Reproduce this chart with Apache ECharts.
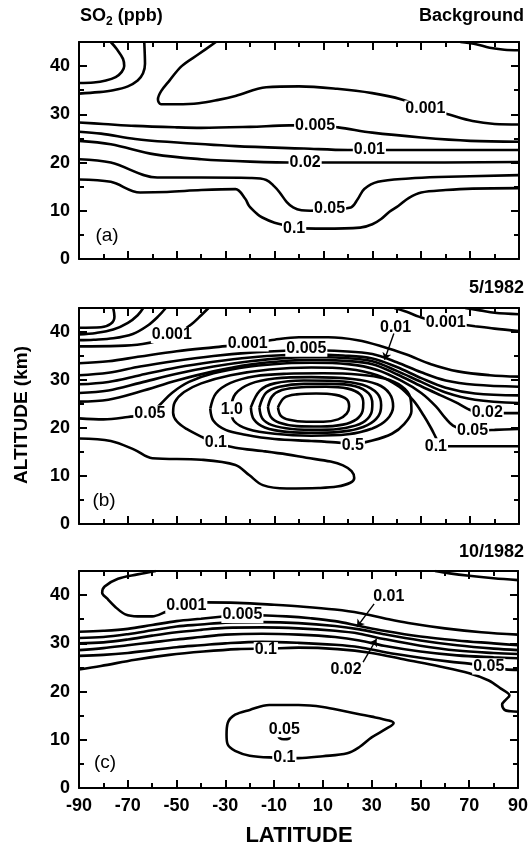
<!DOCTYPE html>
<html><head><meta charset="utf-8">
<script src="https://cdn.jsdelivr.net/npm/echarts@6/dist/echarts.min.js"></script>
<style>html,body{margin:0;padding:0;background:#fff}#c{width:531px;height:851px}</style>
</head><body><div id="c"></div>
<script>
// ---------- axis ticks ----------
const latMajor = [-90,-70,-50,-30,-10,10,30,50,70,90];
const latMinor = [-80,-60,-40,-20,0,20,40,60,80];
const altMajor = [0,10,20,30,40];
const altMinor = [5,15,25,35,45];

// ---------- panel (a) Background : contour polylines [lat, alt] ----------
const a1 = [[-77,45],[-74.5,43.5],[-72,41.5],[-71.5,40],[-72.5,38.8],[-75,37.7],[-79,37],[-84,36.6],[-90,36.5]];
const a2 = [[-63.3,45],[-63.1,42.5],[-63,40.5],[-63.8,38.5],[-66,37],[-70,35.8],[-76,35],[-82,34.6],[-90,34.3]];
const a3 = [[-34,45],[-41,42.5],[-48,40],[-53,37],[-56.4,34.8],[-57.7,33.1],[-56.5,32.1],[-50,32.1],[-41,32.3],[-33,33],[-26,33.8],[-13.4,35.6],[0,35.8],[15.6,35.3],[30,34.4],[42,33.1],[51.7,31.3],[61,30],[71,28.6],[80,28],[90,27.9]];
const a4 = [[66,45],[72,44.6],[78,43.8],[84,43.4],[90,43.3]];
const a5 = [[-90,28.3],[-80,28],[-67,27.6],[-50,27.3],[-40,27.2],[-20,27.4],[-4,27.7],[6.6,27.7],[16,27.3],[30,26.2],[50,25.2],[70,24.5],[90,24.3]];
const a6 = [[-90,26.4],[-81,26],[-67,24.9],[-54,24.3],[-26,23.4],[2,22.9],[20,22.6],[40,22.6],[90,22.6]];
const a7 = [[-90,24.5],[-77,23.8],[-59,21.7],[-40,20.7],[-20,20.2],[0,20],[40,20],[90,20.1]];
const a8 = [[-90,20.7],[-77,20],[-58,16.9],[-40,16.9],[-20,16.8],[-13.4,16.4],[-10,15],[-7.9,13.8],[-5,11.8],[-2.4,10.7],[1,10.1],[4.6,10],[12.5,10.3],[21.2,10.7],[24,12.4],[26.7,14.5],[32.3,16],[45,16.7],[57,17],[90,17.4]];
const a9 = [[-90,16.5],[-77,16],[-65,13.8],[-54,13.9],[-40,14.3],[-26,14.5],[-22,12.5],[-20.4,11],[-17,9.3],[-15,8.6],[-10,7.5],[-5,6.9],[0,6.4],[10,6.3],[25,6.5],[30,7.2],[33.6,8.3],[37,9.8],[40.6,11],[45,12.7],[50,13.8],[60,14.3],[71,14.6],[90,14.7]];
const labelsA = [['0.001',51.7,31.2],['0.005',6.6,27.7],['0.01',28.8,22.6],['0.02',2.5,20],['0.05',12.5,10.4],['0.1',-2,6.4]];

// ---------- panel (b) 5/1982 ----------
const b1 = [[-76,45],[-75.5,43.2],[-77,41.7],[-81,41],[-90,40.9]];
const b2 = [[-63.7,45],[-66,43.5],[-70,41.9],[-76,40.5],[-83,39.8],[-90,39.5]];
const b3 = [[-54.5,45],[-57.5,43.3],[-62,41.3],[-68,39.6],[-76,38.7],[-84,38.4],[-90,38.3]];
const b4 = [[-37,45],[-40,43.5],[-44,41.6],[-48,40.2],[-52,39.3],[-57,38.3],[-64,37.5],[-74,37.1],[-90,37.0]];
const bt1 = [[68,45],[74,44.5],[80,44],[90,43.7]];
const bt2 = [[39,45],[44,44.2],[49,43.2],[54,42.4],[60,42],[66,41.6],[72,41.2],[80,40.7],[90,40.2]];
const bL1 = [[-90,33.5],[-78,33.9],[-65,34.9],[-50,36],[-35,36.8],[-21,37.5],[-10,38.4],[0,38.9],[12,38.9],[24,38.3],[34,37],[44,35.3],[54,33.3],[65,31.8],[78,31],[90,30.7]];
const bL2 = [[-90,31],[-78,31.5],[-65,32.8],[-50,34],[-35,35],[-20,35.7],[-5,36.1],[3,36.2],[18,36],[30,35.4],[40,33.7],[50,31.6],[60,29.9],[72,29],[90,28.6]];
const bL3 = [[-90,29.1],[-78,29.6],[-65,31],[-50,32.6],[-35,33.8],[-20,34.7],[-5,35.2],[5,35.3],[18,35.1],[30,34.5],[40,32.7],[50,30.4],[60,28.4],[72,27.2],[90,26.8]];
const bL4 = [[-90,27.3],[-78,27.8],[-65,29.4],[-50,31.3],[-35,32.8],[-20,33.9],[-5,34.6],[5,34.8],[18,34.6],[30,33.9],[40,31.9],[50,29.6],[60,27.4],[72,25.9],[90,25.2]];
const bL5 = [[-90,25.5],[-78,25.9],[-65,27.6],[-50,29.9],[-35,31.8],[-20,33.2],[-5,34],[5,34.2],[18,34],[30,33.3],[40,31.2],[50,28.7],[58,26.8],[64,25.4],[69,24],[72,23.4],[77,23.3],[84,23.1],[90,23.1]];
const bL6 = [[-90,22],[-80,21.8],[-70,22.3],[-61,23],[-57,24.8],[-52,27.3],[-45,29.6],[-35,31.4],[-20,32.8],[-5,33.5],[5,33.6],[20,33.3],[32,32.1],[42,29.8],[50,27.3],[56,24.5],[60,22],[63,20.5],[67,19.7],[71,19.5],[80,19.6],[90,19.8]];
const bL7 = [[-90,17.8],[-77,17.3],[-67.4,15.5],[-60,13.7],[-40,13.4],[-26,12.3],[-20.4,10.2],[-14.8,8.1],[-5,7.4],[8,7.5],[15.6,7.8],[21,8.6],[22.6,9.6],[21.5,11],[18,12.2],[12.9,13],[3,13.8],[-5,14.5],[-15,15.2],[-26,15.9],[-34,16.9],[-40,18.2],[-46,19.8],[-50,21.4],[-51.5,23.2],[-50.8,25.4],[-47,27.5],[-40,29.3],[-28,31],[-12,32.2],[5,32.6],[20,32.3],[32,31],[41,28.6],[47,25.6],[51,22.6],[54,20],[56,18],[57.5,16.6],[61,16.2],[70,16.2],[90,16.2]];
const bR1 = [[-36.3,24],[-35,21.5],[-30,19.6],[-22,18.6],[-10,17.7],[5,17.3],[15,17],[22,16.7],[30,17.4],[38,18.8],[43,20.8],[46,23.5],[45.5,26.4],[42,28.7],[35,30.3],[25,31.1],[10,31.4],[-5,31.3],[-18,30.8],[-28,29.4],[-34,27.2],[-36.3,24]];
const bR2 = [[-28,24],[-26.5,21.4],[-21,19.8],[-10,18.8],[5,18.4],[20,18.7],[30,19.9],[36,21.8],[38.5,24.5],[37,27.2],[32,29.1],[22,30.2],[5,30.6],[-10,30.3],[-20,29.2],[-26,27.1],[-28,24]];
const bR3 = [[-19.7,24.3],[-18.5,21.8],[-14,20.1],[-5,19.2],[8,19],[20,19.4],[28,20.6],[32.5,22.5],[33.6,24.8],[32,27.2],[26,29],[15,29.8],[2,29.9],[-10,29.3],[-16,27.8],[-19.7,24.3]];
const bR4 = [[-16.2,24.3],[-15,22],[-11,20.6],[-3,19.8],[9,19.6],[19,20],[26,21.1],[29.5,23],[30,25],[28.5,27.2],[23,28.7],[13,29.2],[2,29.2],[-8,28.6],[-13.5,27.3],[-16.2,24.3]];
const bR5 = [[-12.7,24.4],[-11.5,22.3],[-8,21.1],[-1,20.4],[9,20.3],[18,20.7],[23.5,21.8],[26,23.5],[26.3,25.2],[25,27],[20,28.2],[11,28.6],[1,28.5],[-7,27.9],[-11,26.6],[-12.7,24.4]];
const bR6 = [[-8.6,24.3],[-7.5,22.6],[-4,21.7],[3,21.3],[10,21.3],[16,21.8],[19.5,23],[20.5,24.5],[19.5,26],[15,26.9],[7,27.2],[-1,27],[-6,26.3],[-8.6,24.3]];
const labelsB = [['0.001',-52,39.4],['0.001',-21,37.6],['0.005',3,36.5],['0.01',39.5,41],['0.001',60,42],['0.05',-61,23],['1.0',-27.5,23.9],['0.1',-34,16.9],['0.5',22,16.4],['0.02',77,23.3],['0.05',71,19.5],['0.1',56,16.2]];
const arrowsB = [[[38.8,39.7],[35,34.2]]];

// ---------- panel (c) 10/1982 ----------
const cTR = [[56,45],[62,44.5],[70,44],[80,43.5],[90,43.1]];
const c1 = [[-58.5,45],[-66,44.3],[-74,43.4],[-79.5,41.8],[-80.5,40.5],[-78.5,39.3],[-75,37.5],[-71,36],[-66,35.6],[-60,35.6],[-54,36.6],[-46,37.8],[-38,38.5],[-25,38.4],[-10,38],[2,37.6],[15,37],[25,36.3],[35,35.2],[45,34.2],[60,33.1],[75,32.3],[90,31.8]];
const c2 = [[-90,32.4],[-80,32.6],[-70,33],[-60,33.8],[-50,34.6],[-40,35.1],[-30,35.6],[-23,35.9],[-15,35.8],[-5,35.6],[5,35.2],[15,34.6],[25,33.6],[35,32.6],[50,31.4],[65,30.6],[80,30],[90,29.6]];
const c3 = [[-90,31.1],[-80,31.3],[-70,31.9],[-60,32.7],[-50,33.5],[-40,33.9],[-30,34.3],[-15,34.4],[0,34.2],[15,33.6],[25,32.9],[35,31.9],[50,30.6],[65,29.6],[80,28.9],[90,28.6]];
const c4 = [[-90,30],[-80,30.2],[-70,30.8],[-60,31.6],[-50,32.3],[-40,32.8],[-30,33.2],[-15,33.3],[0,33.1],[15,32.6],[25,32],[35,30.9],[50,29.5],[65,28.5],[80,28],[90,27.8]];
const c5 = [[-90,28.6],[-80,29],[-70,29.6],[-60,30.2],[-50,30.8],[-40,31.3],[-30,31.8],[-15,32],[0,31.8],[15,31.3],[25,30.6],[35,29.5],[50,28.3],[65,27.5],[80,27.1],[90,26.9]];
const c6 = [[-90,27.4],[-80,27.6],[-70,28],[-60,28.6],[-50,29.2],[-40,29.6],[-30,30],[-15,30.3],[0,30.1],[15,29.7],[25,29.2],[35,28.2],[50,27],[62,26.2],[70,25.8],[78,25.2],[85,24.6],[90,24.5]];
const c7 = [[-90,24.6],[-81,25.3],[-67,26.6],[-53,27.6],[-39,28.3],[-25,28.8],[-13,28.9],[0,29.1],[16,28.8],[30,28],[44,26.6],[58,25.2],[70,23.8],[78,22.3],[83,20.6],[86.5,19.2],[85,18.3],[83.5,17.3],[84.5,16.2],[87,15.9],[90,15.8]];
const cBlob = [[-29.5,11],[-29,13.5],[-26,15.2],[-20,16.2],[-12,17.2],[0,17.2],[10,16.8],[20,15.8],[30,14.8],[37,14],[39,13.5],[36,12.3],[30,10.5],[25,8.5],[20,7.2],[10,6.6],[0,6.2],[-10,6.3],[-20,6.7],[-26,7.7],[-29,9],[-29.5,11]];
const cTiny = [[-8.3,11],[-7.8,10.4],[-6,10.1],[-4,10.2],[-3.3,10.8]];
const labelsC = [['0.001',-46,37.9],['0.005',-23,35.9],['0.1',-13.4,28.6],['0.01',37,39.6],['0.02',19.5,24.5],['0.05',78,25.2],['0.05',-5.8,12.2],['0.1',-5.8,6.3]];
const arrowsC = [[[31,38.2],[24,33.4]],[[26.5,26.1],[32,30.9]]];

const panels = [
  {lines:[a1,a2,a3,a4,a5,a6,a7,a8,a9], labels:labelsA, arrows:[]},
  {lines:[b1,b2,b3,b4,bt1,bt2,bL1,bL2,bL3,bL4,bL5,bL6,bL7,bR1,bR2,bR3,bR4,bR5,bR6], labels:labelsB, arrows:arrowsB},
  {lines:[cTR,c1,c2,c3,c4,c5,c6,c7,cBlob,cTiny], labels:labelsC, arrows:arrowsC}
];

const FONT = 'Liberation Sans';
const grids = [
  {left:79, width:440, top:42, height:217},
  {left:79, width:440, top:308, height:216},
  {left:79, width:440, top:571, height:217}
];
const xAxes = [], yAxes = [], series = [];
function ax(g, pos, ticks, len, line, labels, isX){
  return {
    type:'value', gridIndex:g, position:pos,
    min: isX ? -90 : 0, max: isX ? 90 : 45,
    axisLine:{show:line, onZero:false, lineStyle:{color:'#000', width:2}},
    axisTick:{show:true, inside:true, length:len, customValues:ticks, lineStyle:{color:'#000', width:2}},
    axisLabel:{show:!!labels, customValues:labels||undefined, color:'#000', fontFamily:FONT, fontWeight:'bold', fontSize:18, margin:9},
    splitLine:{show:false}
  };
}
grids.forEach((gr,g)=>{
  xAxes.push(ax(g,'bottom',latMajor,8,true,g===2?latMajor:null,true));
  xAxes.push(ax(g,'bottom',latMinor,5,false,null,true));
  xAxes.push(ax(g,'top',latMajor,8,true,null,true));
  xAxes.push(ax(g,'top',latMinor,5,false,null,true));
  yAxes.push(ax(g,'left',altMajor,8,true,altMajor,false));
  yAxes.push(ax(g,'left',altMinor,5,false,null,false));
  yAxes.push(ax(g,'right',altMajor,8,true,null,false));
  yAxes.push(ax(g,'right',altMinor,5,false,null,false));
  const p = panels[g];
  p.lines.forEach(d=>{
    series.push({type:'line', xAxisIndex:g*4, yAxisIndex:g*4, data:d, symbol:'none', showSymbol:false,
      smooth:0.35, silent:true, animation:false, z:2,
      lineStyle:{color:'#000', width:2.6}});
  });
  if(p.arrows.length){
    series.push({type:'lines', coordinateSystem:'cartesian2d', xAxisIndex:g*4, yAxisIndex:g*4,
      data:p.arrows.map(a=>({coords:a})), symbol:['none','arrow'], symbolSize:[0,7], silent:true, animation:false, z:6,
      lineStyle:{color:'#000', width:1.4, opacity:1}});
  }
  series.push({type:'scatter', xAxisIndex:g*4, yAxisIndex:g*4, symbolSize:1, silent:true, animation:false, z:5,
    itemStyle:{color:'rgba(0,0,0,0)'},
    data:p.labels.map(l=>({name:l[0], value:[l[1],l[2]]})),
    label:{show:true, position:'inside', formatter:'{b}', color:'#000', opacity:1, fontFamily:FONT, fontWeight:'bold', fontSize:16,
      textBorderWidth:0, textBorderColor:'transparent', textShadowBlur:0,
      backgroundColor:'#fff', padding:[0,1]}});
});

const txt = (x,y,t,opt)=>({type:'text', x:x, y:y, z:20, style:Object.assign({text:t, fill:'#000', font:'bold 18px '+FONT, textAlign:'left', textVerticalAlign:'middle'}, opt||{})});
const graphic = [
  {type:'text', x:80, y:16, z:20, style:{text:'{a|SO}{s|2}{a| (ppb)}', fill:'#000', textVerticalAlign:'middle',
    rich:{a:{font:'bold 18px '+FONT, lineHeight:24, verticalAlign:'middle'}, s:{font:'bold 12px '+FONT, lineHeight:24, verticalAlign:'bottom'}}}},
  txt(524,16,'Background',{textAlign:'right'}),
  txt(524,288,'5/1982',{textAlign:'right'}),
  txt(524,552,'10/1982',{textAlign:'right'}),
  txt(107,236,'(a)',{textAlign:'center', font:'19px '+FONT}),
  txt(104,501,'(b)',{textAlign:'center', font:'19px '+FONT}),
  txt(105,763,'(c)',{textAlign:'center', font:'19px '+FONT}),
  {type:'text', x:22, y:415, rotation:Math.PI/2, z:20, style:{text:'ALTITUDE (km)', fill:'#000', font:'bold 19px '+FONT, textAlign:'center', textVerticalAlign:'middle'}},
  txt(299,836,'LATITUDE',{textAlign:'center', font:'bold 22px '+FONT})
];

const chart = echarts.init(document.getElementById('c'), null, {renderer:'canvas'});
chart.setOption({animation:false, backgroundColor:'#fff', grid:grids, xAxis:xAxes, yAxis:yAxes, series:series, graphic:graphic});
</script></body></html>
